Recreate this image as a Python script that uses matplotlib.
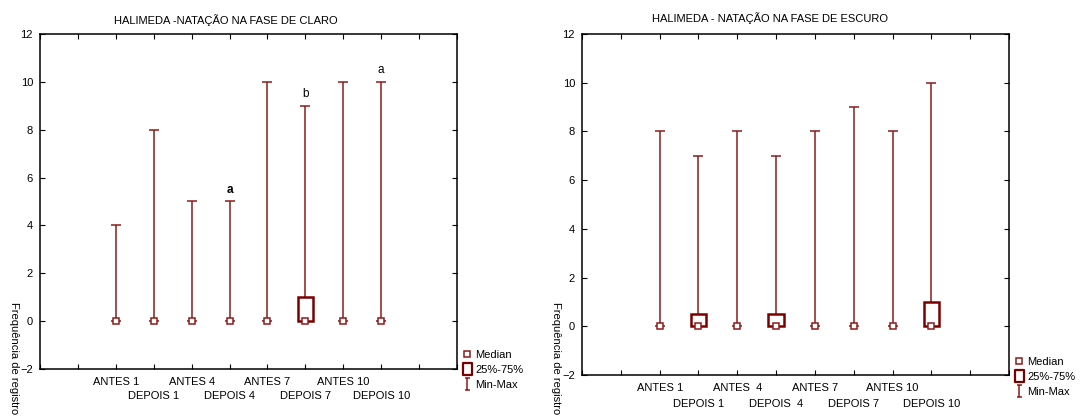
import numpy as np
import matplotlib
matplotlib.use('Agg')
import matplotlib.pyplot as plt
from matplotlib.lines import Line2D
from matplotlib.path import Path

plt.rcParams['font.family'] = ['Liberation Sans', 'DejaVu Sans']
plt.rcParams['font.size'] = 8

# dados
grupos_claro = ['ANTES 1', 'DEPOIS 1', 'ANTES 4', 'DEPOIS 4', 'ANTES 7', 'DEPOIS 7', 'ANTES 10', 'DEPOIS 10']
mediana_claro = [0, 0, 0, 0, 0, 0, 0, 0]
q1_claro = [0, 0, 0, 0, 0, 0, 0, 0]
q3_claro = [0, 0, 0, 0, 0, 1, 0, 0]
min_claro = [0, 0, 0, 0, 0, 0, 0, 0]
max_claro = [4, 8, 5, 5, 10, 9, 10, 10]
letras_claro = ['', '', '', 'a', '', 'b', '', 'a']

grupos_escuro = ['ANTES 1', 'DEPOIS 1', 'ANTES  4', 'DEPOIS  4', 'ANTES 7', 'DEPOIS 7', 'ANTES 10', 'DEPOIS 10']
mediana_escuro = [0, 0, 0, 0, 0, 0, 0, 0]
q1_escuro = [0, 0, 0, 0, 0, 0, 0, 0]
q3_escuro = [0, 0.5, 0, 0.5, 0, 0, 0, 1]
min_escuro = [0, 0, 0, 0, 0, 0, 0, 0]
max_escuro = [8, 7, 8, 7, 8, 9, 8, 10]

cor_linha = '#8e1a1a'
cor_caixa = '#7a0000'

# marcador em forma de "I" para a legenda
i_path = Path([(-0.45, 1), (0.45, 1), (0, 1), (0, -1), (-0.45, -1), (0.45, -1)],
              [Path.MOVETO, Path.LINETO, Path.MOVETO, Path.LINETO, Path.MOVETO, Path.LINETO])
rect_path = Path([(-0.36, -0.5), (0.36, -0.5), (0.36, 0.5), (-0.36, 0.5), (-0.36, -0.5)],
                 [Path.MOVETO, Path.LINETO, Path.LINETO, Path.LINETO, Path.CLOSEPOLY])


def boxplot_painel(ax, grupos, med, q1, q3, mn, mx, titulo, rot_y, lab_off, leg_xy, tit_xy, ylab_xy, letras=None):
    x = np.arange(2, 2 + len(grupos))
    med = np.array(med, float)
    q1 = np.array(q1, float)
    q3 = np.array(q3, float)
    mn = np.array(mn, float)
    mx = np.array(mx, float)

    ax.errorbar(x, med, yerr=[med - mn, mx - med], fmt='none', ecolor=cor_linha,
                elinewidth=1.1, capsize=3.5, capthick=1.1, zorder=2)
    tem = q3 > q1
    ax.bar(x[tem], (q3 - q1)[tem], bottom=q1[tem], width=0.4, facecolor='white',
           edgecolor=cor_caixa, linewidth=1.8, zorder=3)
    ax.plot(x, med, 's', ms=4.8, mfc='white', mec=cor_linha, mew=1.1, zorder=4)

    if letras:
        for xi, yi, l in zip(x, mx, letras):
            if l:
                ax.annotate(l, (xi, yi), xytext=(0, 4), textcoords='offset points',
                            ha='center', va='bottom', fontsize=8.5,
                            fontweight='bold' if xi == 5 else 'normal')

    ax.set_xlim(0, 11)
    ax.set_ylim(-2, 12)
    ax.set_xticks(np.arange(0, 12))
    ax.set_xticklabels([])
    ax.set_yticks(np.arange(-2, 13, 2))
    ax.tick_params(direction='in', length=3.5, width=0.8, top=True, right=True, pad=5,
                   labelsize=8)
    for s in ax.spines.values():
        s.set_linewidth(1.1)

    for i, (xi, g) in enumerate(zip(x, grupos)):
        off = lab_off[0] if i % 2 == 0 else lab_off[1]
        ax.annotate(g, (xi, 0), xycoords=('data', 'axes fraction'), xytext=(0, -off),
                    textcoords='offset pixels', ha='center', va='center', fontsize=8)

    fig.text(tit_xy[0], tit_xy[1], titulo, ha='center', va='center', fontsize=8)
    fig.text(ylab_xy[0], ylab_xy[1], rot_y, rotation=270, ha='center', va='bottom', fontsize=8)

    handles = [
        Line2D([], [], marker='s', ms=4.5, mfc='white', mec=cor_linha, mew=1.1, ls='none'),
        Line2D([], [], marker=rect_path, ms=9, mfc='white', mec=cor_caixa, mew=1.6, ls='none'),
        Line2D([], [], marker=i_path, ms=8, mfc='none', mec=cor_linha, mew=1.1, ls='none'),
    ]
    ax.legend(handles, ['Median', '25%-75%', 'Min-Max'], loc='upper left',
              bbox_to_anchor=leg_xy, bbox_transform=fig.transFigure, frameon=False,
              handlelength=0.8, handletextpad=0.3, labelspacing=0.45, borderpad=0,
              borderaxespad=0, fontsize=8)


fig = plt.figure(figsize=(10.83, 4.16), dpi=100)
W, H = 1083, 416
ax1 = fig.add_axes([40 / W, 1 - 369 / H, (457 - 40) / W, (369 - 34) / H])
ax2 = fig.add_axes([582 / W, 1 - 375 / H, (1009 - 582) / W, (375 - 34) / H])

boxplot_painel(ax1, grupos_claro, mediana_claro, q1_claro, q3_claro, min_claro, max_claro,
               'HALIMEDA -NATAÇÃO NA FASE DE CLARO', 'Frequência de registro',
               (13, 27), (463 / W, 1 - 350 / H), (226 / W, 1 - 20 / H), (14 / W, 1 - 414 / H),
               letras=letras_claro)
boxplot_painel(ax2, grupos_escuro, mediana_escuro, q1_escuro, q3_escuro, min_escuro, max_escuro,
               'HALIMEDA - NATAÇÃO NA FASE DE ESCURO', 'Frequência de registro',
               (13, 29), (1015 / W, 1 - 357 / H), (770 / W, 1 - 18 / H), (556 / W, 1 - 414 / H))

fig.savefig('out.png', dpi=100)
